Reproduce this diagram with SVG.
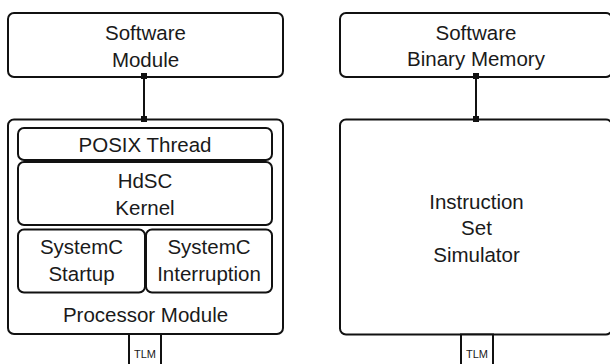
<svg xmlns="http://www.w3.org/2000/svg" width="610" height="364" viewBox="0 0 610 364">
<defs>
<marker id="sq" viewBox="0 0 6 6" refX="3" refY="3" markerWidth="6" markerHeight="6" markerUnits="userSpaceOnUse">
<rect x="0" y="0" width="6" height="6" fill="#111"/>
</marker>
</defs>
<style>
.box{fill:#fff;stroke:#111;stroke-width:2}
.t{font-family:"Liberation Sans",Arial,sans-serif;font-size:20.5px;fill:#1a1a1a;text-anchor:middle}
.s{font-family:"Liberation Sans",Arial,sans-serif;font-size:11px;fill:#1a1a1a;text-anchor:middle}
.c{stroke:#111;stroke-width:2;fill:none;marker-start:url(#sq);marker-end:url(#sq)}
</style>
<rect width="610" height="364" fill="#fff"/>
<g id="software-module">
<rect class="box" x="8" y="13" width="275" height="64" rx="6"/>
<text class="t" x="145.5" y="40">Software</text>
<text class="t" x="145.5" y="67">Module</text>
</g>
<g id="processor-module">
<rect class="box" x="8" y="119.5" width="275" height="214.5" rx="6"/>
<text class="t" x="145.5" y="322">Processor Module</text>
</g>
<g id="posix-thread">
<rect class="box" x="18" y="128" width="254" height="32" rx="6"/>
<text class="t" x="145" y="152">POSIX Thread</text>
</g>
<g id="hdsc-kernel">
<rect class="box" x="18" y="162" width="254" height="63" rx="6"/>
<text class="t" x="145" y="188">HdSC</text>
<text class="t" x="145" y="215">Kernel</text>
</g>
<g id="systemc-startup">
<rect class="box" x="18" y="229.5" width="127" height="63" rx="6"/>
<text class="t" x="81.5" y="254">SystemC</text>
<text class="t" x="81.5" y="281">Startup</text>
</g>
<g id="systemc-interruption">
<rect class="box" x="146" y="229.5" width="126" height="63" rx="6"/>
<text class="t" x="209" y="254">SystemC</text>
<text class="t" x="209" y="281">Interruption</text>
</g>
<g id="tlm-left">
<rect class="box" x="129" y="334" width="32" height="40"/>
<text class="s" x="145" y="358">TLM</text>
</g>
<g id="software-binary-memory">
<rect class="box" x="340" y="13" width="272" height="64" rx="6"/>
<text class="t" x="476" y="39.5">Software</text>
<text class="t" x="476" y="66">Binary Memory</text>
</g>
<g id="instruction-set-simulator">
<rect class="box" x="340" y="119.5" width="272" height="215" rx="6"/>
<text class="t" x="476.5" y="208.5">Instruction</text>
<text class="t" x="476.5" y="235">Set</text>
<text class="t" x="476.5" y="262">Simulator</text>
</g>
<g id="tlm-right">
<rect class="box" x="461" y="334.5" width="32" height="40"/>
<text class="s" x="477" y="358">TLM</text>
</g>
<g id="connectors">
<line class="c" x1="144" y1="76" x2="144" y2="119"/>
<line class="c" x1="476" y1="76" x2="476" y2="119"/>
</g>
</svg>
